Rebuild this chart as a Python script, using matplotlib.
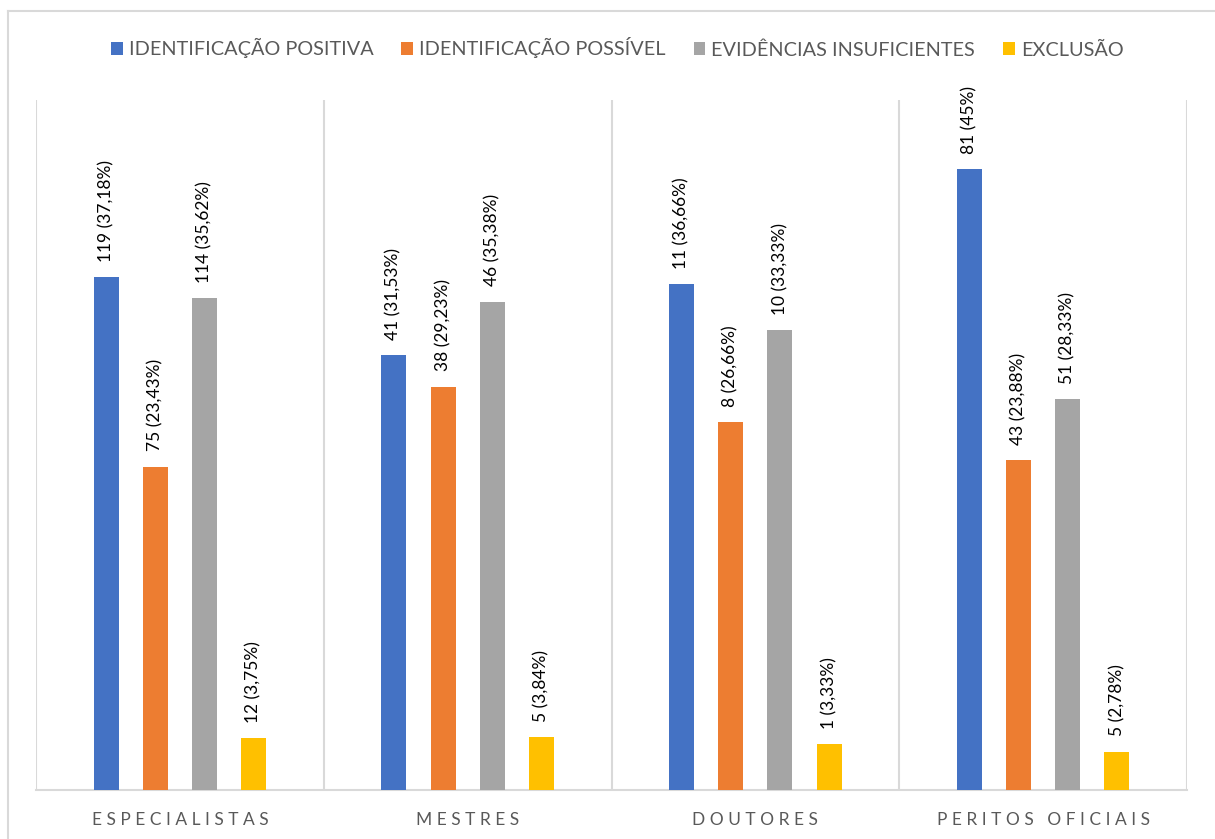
import numpy as np
import matplotlib.pyplot as plt
from matplotlib.lines import Line2D

# Data
categories = ['ESPECIALISTAS', 'MESTRES', 'DOUTORES', 'PERITOS OFICIAIS']
series = ['IDENTIFICAÇÃO POSITIVA', 'IDENTIFICAÇÃO POSSÍVEL',
          'EVIDÊNCIAS INSUFICIENTES', 'EXCLUSÃO']
counts = [
    [119, 41, 11, 81],
    [75, 38, 8, 43],
    [114, 46, 10, 51],
    [12, 5, 1, 5],
]
percents = [
    [37.18, 31.53, 36.66, 45.0],
    [23.43, 29.23, 26.66, 23.88],
    [35.62, 35.38, 33.33, 28.33],
    [3.75, 3.84, 3.33, 2.78],
]
colors = ['#4472C4', '#ED7D31', '#A5A5A5', '#FFC000']

plt.rcParams['font.family'] = ['Lato', 'DejaVu Sans']

fig = plt.figure(figsize=(12.15, 8.39), dpi=100)
ax = fig.add_axes([36 / 1215, 49 / 839, (1187 - 36) / 1215, (790 - 100) / 839])

x = np.arange(len(categories))
width = 0.087
step = 0.171


def fmt_pct(p):
    s = '{:.2f}'.format(p).rstrip('0').rstrip('.')
    return s.replace('.', ',')


for i, name in enumerate(series):
    pos = x + (i - 1.5) * step
    ax.bar(pos, percents[i], width, color=colors[i], label=name, zorder=3)
    for xp, c, p in zip(pos, counts[i], percents[i]):
        ax.annotate('{} ({}%)'.format(c, fmt_pct(p)), (xp, p),
                    xytext=(0, 11), textcoords='offset points',
                    rotation=90, ha='center', va='bottom',
                    fontsize=12.5, color='#000000')

ax.set_xlim(-0.5, len(categories) - 0.5)
ax.set_ylim(0, 50)
ax.set_yticks([])
ax.set_xticks(x)
ax.set_xticklabels([' '.join(c) for c in categories],
                   fontsize=12.5, color='#595959')
ax.tick_params(axis='x', length=0, pad=16)

for s in ['top', 'left', 'right']:
    ax.spines[s].set_visible(False)
ax.spines['bottom'].set_color('#d9d9d9')
ax.spines['bottom'].set_linewidth(1.5)

# category separators
for b in np.arange(-0.5, len(categories), 1.0):
    ax.axvline(b, color='#d9d9d9', lw=1.5, zorder=1)

leg = fig.legend(loc='center', bbox_to_anchor=(0.508, 1 - 48 / 839), ncol=4,
                 frameon=False, fontsize=14.3, handlelength=0.6, handleheight=0.6,
                 handletextpad=0.3, columnspacing=1.4)
for t in leg.get_texts():
    t.set_color('#595959')

# chart border (left and top visible)
fig.add_artist(Line2D([8 / 1215, 8 / 1215], [0, 1 - 11 / 839],
                      transform=fig.transFigure, color='#d9d9d9', lw=1.5))
fig.add_artist(Line2D([8 / 1215, 1], [1 - 11 / 839, 1 - 11 / 839],
                      transform=fig.transFigure, color='#d9d9d9', lw=1.5))

plt.savefig('out.png', dpi=100)
